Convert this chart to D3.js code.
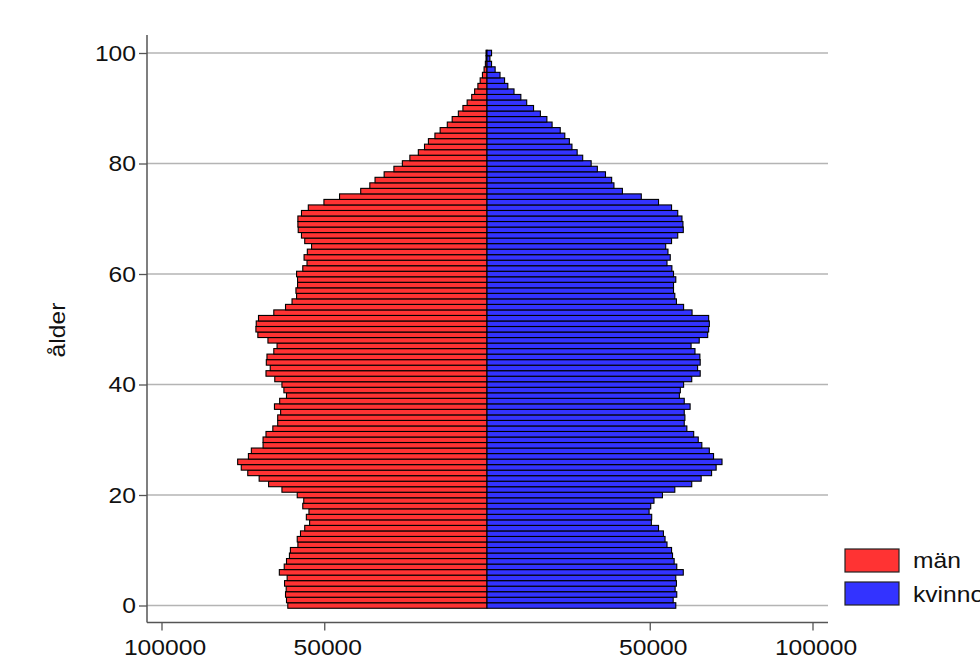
<!DOCTYPE html>
<html>
<head>
<meta charset="utf-8">
<script src="https://cdn.jsdelivr.net/npm/d3@7"></script>
<style>
html,body{margin:0;padding:0;background:#fff;}
svg{display:block;}
text{font-family:"Liberation Sans",Arial,sans-serif;}
</style>
</head>
<body>
<svg id="chart" width="980" height="659"></svg>
<script>
const ages = d3.range(0, 101);
const men = [61200,61600,61900,61700,62200,61400,63800,62300,61600,60700,
60400,58100,58300,57300,56000,54500,55500,54700,56600,56300,
58300,63000,67100,70000,73500,75500,76600,73300,72400,68800,
68800,67900,65800,64300,64300,63400,65300,63700,61600,62400,
63000,65200,67900,66600,67800,67600,65500,64500,67300,70400,
71000,70900,70200,65500,61900,59900,58500,58700,58200,58200,
58500,56600,55300,56200,55200,53900,56000,57000,58000,58100,
58100,57000,54900,50100,45300,38800,36000,34400,31600,28600,
26000,23700,21100,19200,18000,16000,14400,12200,10700,8800,
7400,6100,4700,3800,2800,2100,1400,900,500,300,300];
const women = [58000,57200,58300,57800,58200,58000,60300,58300,57500,57000,
56700,55300,54700,54200,52700,50500,50600,49800,50300,51300,
53900,57700,62900,65800,69000,70400,72200,69600,68300,66000,
64900,63500,61400,60600,60800,60600,62400,60600,59100,59400,
60400,62900,65500,64700,65500,65400,63900,62700,65200,67800,
68100,68300,68100,63000,60400,58200,57700,57300,57300,58000,
57300,56800,55300,56300,55600,54900,56700,58600,60300,60200,
59900,58600,56700,52700,47400,41600,39000,38300,36400,33900,
32000,29400,27700,26100,25300,23900,22500,20000,18400,16400,
14300,12200,10400,8300,6400,5400,4000,2500,1400,900,1400];
const xTicks = [-100000, -50000, 50000, 100000];
const yTicks = [0, 20, 40, 60, 80, 100];
const seriesNames = ["män", "kvinnor"];
const seriesColors = ["#ff3333", "#3333ff"];

const K = 1.12; // horizontal text stretch
function stretch(sel) {
  sel.each(function () {
    const t = d3.select(this);
    const x0 = +t.attr("x") || 0;
    t.attr("transform", `translate(${x0 * (1 - K)},0) scale(${K},1)`);
  });
}

const svg = d3.select("#chart");
const x = d3.scaleLinear().domain([-100000, 100000]).range([161.5, 812.5]);
const y = d3.scaleLinear().domain([0, 100]).range([605.5, 53]);
const bandH = Math.abs(y(1) - y(0));
const plotLeft = 147, plotRight = 828, plotTop = 35, plotBottom = 622.5;

// gridlines
svg.append("g").selectAll("line").data(yTicks).join("line")
  .attr("x1", plotLeft).attr("x2", plotRight)
  .attr("y1", d => y(d)).attr("y2", d => y(d))
  .attr("stroke", "#b4b4b4").attr("stroke-width", 1.5);

// bars
const gBars = svg.append("g");
gBars.selectAll("rect.m").data(ages).join("rect").attr("class", "m")
  .attr("x", i => x(-men[i])).attr("width", i => x(0) - x(-men[i]))
  .attr("y", i => y(i) - bandH / 2).attr("height", bandH)
  .attr("fill", seriesColors[0]).attr("stroke", "#000").attr("stroke-width", 1.1);
gBars.selectAll("rect.w").data(ages).join("rect").attr("class", "w")
  .attr("x", x(0)).attr("width", i => x(women[i]) - x(0))
  .attr("y", i => y(i) - bandH / 2).attr("height", bandH)
  .attr("fill", seriesColors[1]).attr("stroke", "#000").attr("stroke-width", 1.1);

// y axis
const yAxis = svg.append("g").attr("transform", `translate(${plotLeft},0)`)
  .call(d3.axisLeft(y).tickValues(yTicks).tickSize(8).tickPadding(3).tickFormat(d3.format("d")));
yAxis.select(".domain").remove();
yAxis.append("line").attr("x1", 0).attr("x2", 0).attr("y1", plotTop).attr("y2", plotBottom)
  .attr("stroke", "#555").attr("stroke-width", 1.5);
yAxis.selectAll(".tick line").attr("stroke", "#555").attr("stroke-width", 1.3);
yAxis.selectAll(".tick text").attr("font-size", 22).attr("fill", "#111")
  .attr("font-family", "Liberation Sans, Arial, sans-serif").call(stretch);

// x axis
const xAxis = svg.append("g").attr("transform", `translate(0,${plotBottom})`)
  .call(d3.axisBottom(x).tickValues(xTicks).tickSize(8).tickPadding(9).tickFormat(d => String(Math.abs(d))));
xAxis.select(".domain").remove();
xAxis.append("line").attr("x1", plotLeft).attr("x2", plotRight).attr("y1", 0).attr("y2", 0)
  .attr("stroke", "#555").attr("stroke-width", 1.5);
xAxis.selectAll(".tick line").attr("stroke", "#555").attr("stroke-width", 1.3);
xAxis.selectAll(".tick text").attr("font-size", 22).attr("fill", "#111")
  .attr("font-family", "Liberation Sans, Arial, sans-serif").attr("x", 3).call(stretch);

// y label
svg.append("text").attr("transform", `translate(65,330) rotate(-90) scale(${K},1)`)
  .attr("text-anchor", "middle").attr("font-size", 22).attr("fill", "#111").text("ålder");

// legend
const leg = svg.append("g");
seriesNames.forEach((name, i) => {
  leg.append("rect").attr("x", 845).attr("y", 549 + i * 33).attr("width", 54).attr("height", 23)
    .attr("fill", seriesColors[i]).attr("stroke", "#222").attr("stroke-width", 1.2);
  leg.append("text").attr("x", 913).attr("y", 568.5 + i * 34).attr("font-size", 22).attr("fill", "#111")
    .text(name).call(stretch);
});
</script>
</body>
</html>
